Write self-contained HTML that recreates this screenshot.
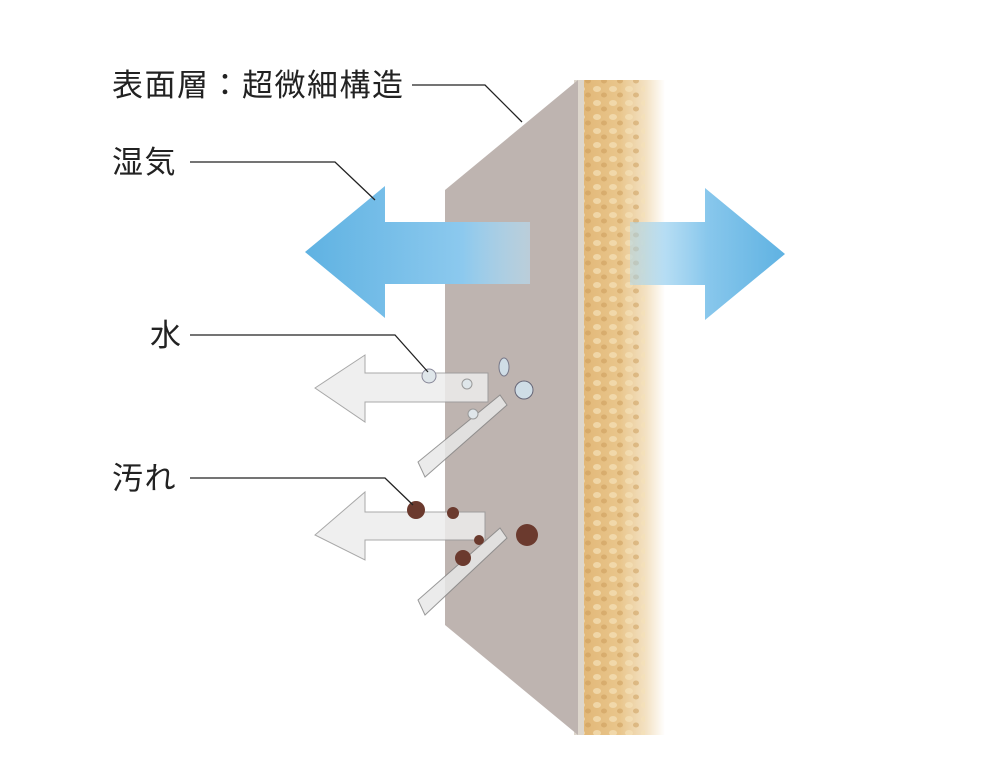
<!DOCTYPE html>
<html><head><meta charset="utf-8"><style>
html,body{margin:0;padding:0;background:#fff;width:1000px;height:776px;overflow:hidden}
</style></head><body>
<svg width="1000" height="776" viewBox="0 0 1000 776" xmlns="http://www.w3.org/2000/svg">
<defs>
<linearGradient id="sponge" x1="0" x2="1" y1="0" y2="0">
<stop offset="0" stop-color="#e0b473"/><stop offset="0.5" stop-color="#e9c68c"/><stop offset="0.8" stop-color="#f4e3c6"/><stop offset="1" stop-color="#fff"/>
</linearGradient>
<linearGradient id="blueL" x1="0" x2="1" y1="0" y2="0">
<stop offset="0" stop-color="#5fb2e2"/><stop offset="0.7" stop-color="#8cc9ee"/><stop offset="1" stop-color="#b8def5" stop-opacity="0.6"/>
</linearGradient>
<linearGradient id="blueR" x1="0" x2="1" y1="0" y2="0">
<stop offset="0" stop-color="#a9d8f2" stop-opacity="0.5"/><stop offset="0.5" stop-color="#88c7ec"/><stop offset="1" stop-color="#5fb2e2"/>
</linearGradient>
<pattern id="dots" width="16" height="14" patternUnits="userSpaceOnUse">
<ellipse cx="5" cy="5" rx="4" ry="3" fill="#f6e2b8" opacity="0.7"/><ellipse cx="12" cy="11" rx="3" ry="2.5" fill="#c99a58" opacity="0.5"/>
</pattern>
</defs>
<polygon points="575,80 665,80 665,735 575,735" fill="url(#sponge)"/>
<polygon points="584,80 645,80 645,735 584,735" fill="url(#dots)"/>
<rect x="574" y="80" width="10" height="655" fill="#ddd6cc"/>
<polygon points="445,190 578,80 578,735 445,625" fill="#beb4b0"/>
<polygon points="305,252 385,186 385,222 530,222 530,284 385,284 385,318" fill="url(#blueL)"/>
<polygon points="630,222 705,222 705,188 785,254 705,320 705,285 630,285" fill="url(#blueR)"/>
<polygon points="315,388 365,355 365,373 488,373 488,402 365,402 365,422" fill="#ededed" stroke="#999" stroke-width="1" opacity="0.85"/>
<polygon points="418,462 500,395 507,405 425,477" fill="#e8e8e8" stroke="#888" stroke-width="1" opacity="0.85"/>
<circle cx="429" cy="376" r="7" fill="#dfe6ea" stroke="#889" stroke-width="1"/>
<circle cx="467" cy="384" r="5" fill="#dfe6ea" stroke="#999"/>
<circle cx="473" cy="414" r="5" fill="#dfe6ea" stroke="#999"/>
<circle cx="524" cy="390" r="9" fill="#cfdde6" stroke="#667" stroke-width="1"/>
<ellipse cx="504" cy="367" rx="5" ry="9" fill="#cfdde6" stroke="#778"/>
<polygon points="315,535 365,492 365,512 485,512 485,540 365,540 365,560" fill="#ededed" stroke="#999" stroke-width="1" opacity="0.85"/>
<polygon points="418,600 500,528 507,538 425,615" fill="#e8e8e8" stroke="#888" stroke-width="1" opacity="0.85"/>
<g fill="#6b3a2e">
<circle cx="416" cy="510" r="9"/><circle cx="453" cy="513" r="6"/><circle cx="479" cy="540" r="5"/><circle cx="463" cy="558" r="8"/><circle cx="527" cy="535" r="11"/>
</g>
<g stroke="#222" stroke-width="1.3" fill="none">
<polyline points="412,85 485,85 522,122"/>
<polyline points="190,162 335,162 375,200"/>
<polyline points="190,335 395,335 428,372"/>
<polyline points="190,478 385,478 413,505"/>
</g>
<g font-family="'Liberation Sans','Noto Sans CJK JP',sans-serif" font-size="31" fill="#222" letter-spacing="1.5">
<text x="112" y="96">表面層：超微細構造</text>
<text x="112" y="173">湿気</text>
<text x="150" y="346">水</text>
<text x="112" y="489">汚れ</text>
</g>
</svg>
</body></html>
